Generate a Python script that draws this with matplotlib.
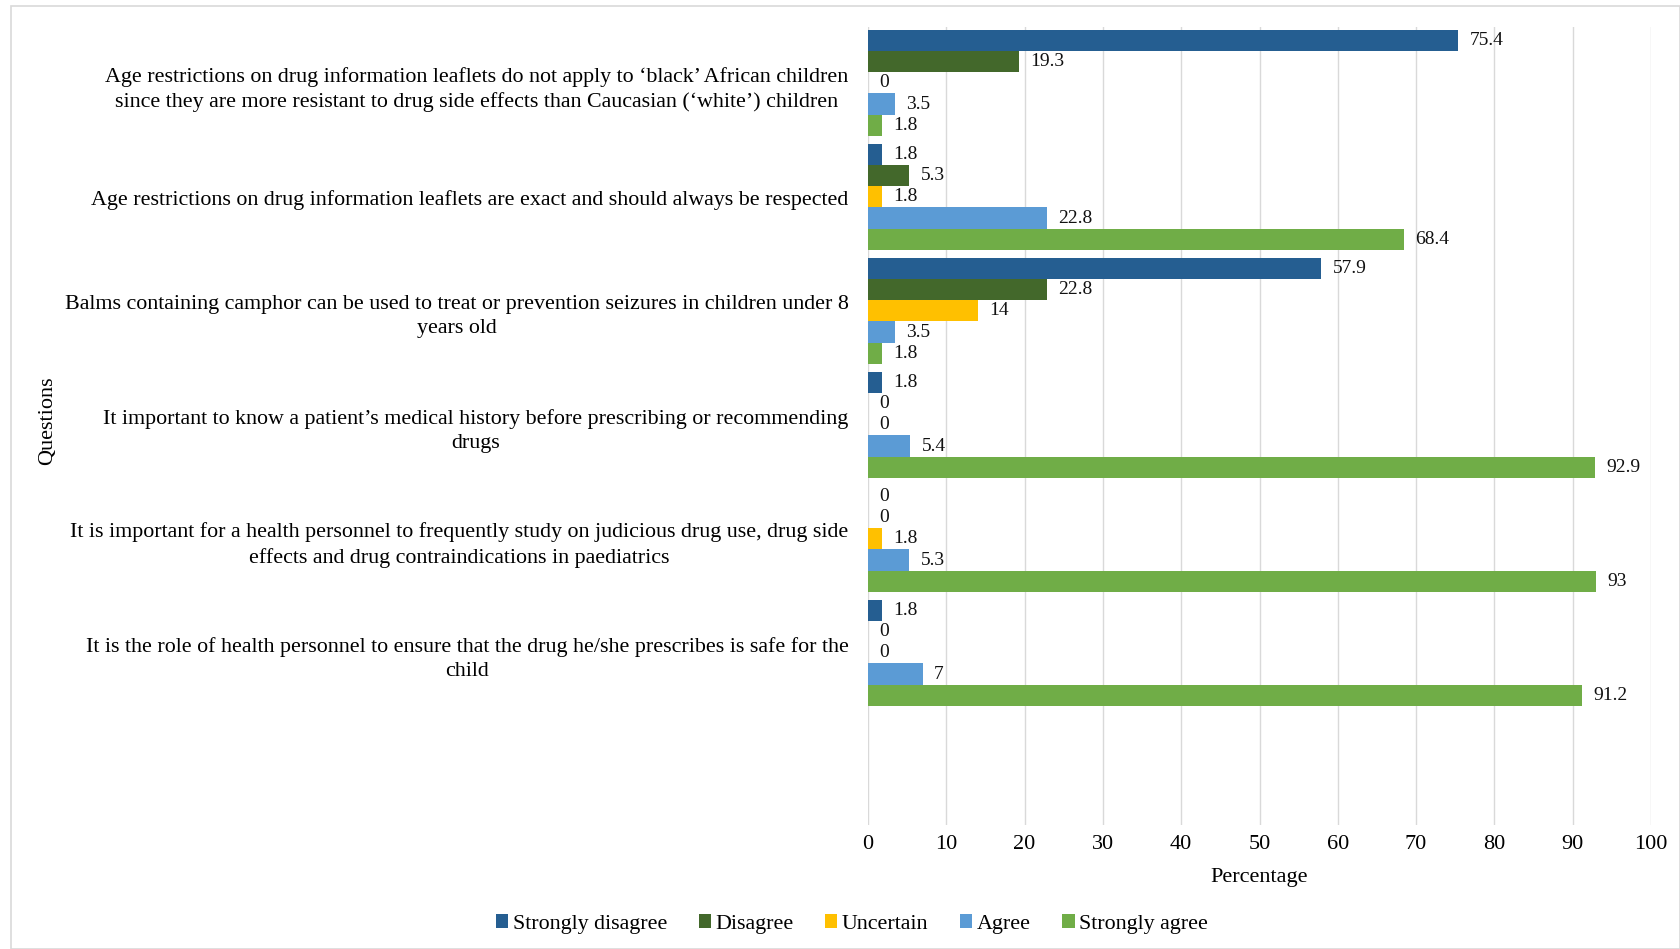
import numpy as np
import matplotlib
matplotlib.use('Agg')
import matplotlib.pyplot as plt
from matplotlib.patches import Rectangle

plt.rcParams['font.family'] = ['Liberation Serif', 'DejaVu Serif']

# questions, top to bottom (last slot is an empty category)
questions = [
    "Age restrictions on drug information leaflets do not apply to \u2018black\u2019 African children\nsince they are more resistant to drug side effects than Caucasian (\u2018white\u2019) children",
    "Age restrictions on drug information leaflets are exact and should always be respected",
    "Balms containing camphor can be used to treat or prevention seizures in children under 8\nyears old",
    "It important to know a patient\u2019s medical history before prescribing or recommending\ndrugs",
    "It is important for a health personnel to frequently study on judicious drug use, drug side\neffects and drug contraindications in paediatrics",
    "It is the role of health personnel to ensure that the drug he/she prescribes is safe for the\nchild",
    "",
]

responses = ['Strongly disagree', 'Disagree', 'Uncertain', 'Agree', 'Strongly agree']
colors = ['#255E91', '#43682B', '#FFC000', '#5B9BD5', '#70AD47']

strongly_disagree = [75.4, 1.8, 57.9, 1.8, 0, 1.8, np.nan]
disagree = [19.3, 5.3, 22.8, 0, 0, 0, np.nan]
uncertain = [0, 1.8, 14, 0, 1.8, 0, np.nan]
agree = [3.5, 22.8, 3.5, 5.4, 5.3, 7, np.nan]
strongly_agree = [1.8, 68.4, 1.8, 92.9, 93, 91.2, np.nan]

series = [strongly_disagree, disagree, uncertain, agree, strongly_agree]

fig = plt.figure(figsize=(16.8, 9.49), dpi=100)
fig.patches.append(Rectangle((11 / 1680, 0.0), 1 - 11 / 1680, 1 - 6 / 949,
                             transform=fig.transFigure, fill=False,
                             edgecolor='#D9D9D9', linewidth=1.2))
ax = fig.add_axes([868 / 1680, 1 - 825 / 949, (1651 - 868) / 1680, (825 - 27) / 949])

y = np.arange(len(questions))
h = 0.186
for j, (vals, name, c) in enumerate(zip(series, responses, colors)):
    bars = ax.barh(y + (j - 2) * h - 0.01, vals, height=h, color=c, label=name)
    labs = ['' if np.isnan(v) else '%g' % v for v in vals]
    ax.bar_label(bars, labels=labs, padding=8, fontsize=14, color='#111111')

ax.set_xlim(0, 100)
ax.set_ylim(len(questions) - 0.5, -0.5)
ax.set_xticks(range(0, 101, 10))
ax.set_yticks(y)
ax.set_yticklabels(questions, fontsize=15.8, multialignment='center',
                   linespacing=1.35)
ax.tick_params(axis='both', length=0)
ax.tick_params(axis='y', pad=14)
ax.tick_params(axis='x', labelsize=16, pad=7)
ax.xaxis.grid(True, color='#D9D9D9', linewidth=1)
ax.set_axisbelow(True)
for s in ax.spines.values():
    s.set_visible(False)

ax.set_xlabel('Percentage', fontsize=16, labelpad=10)
fig.text(48 / 1680, 1 - 421 / 949, 'Questions', rotation=90, fontsize=16,
         ha='center', va='center')

fig.legend(loc='center', bbox_to_anchor=(852 / 1680, 1 - 924 / 949), ncol=5,
           frameon=False, fontsize=15.8, handlelength=0.55, handleheight=0.55,
           handletextpad=0.2, columnspacing=1.45)

fig.savefig('out.png', dpi=100)
